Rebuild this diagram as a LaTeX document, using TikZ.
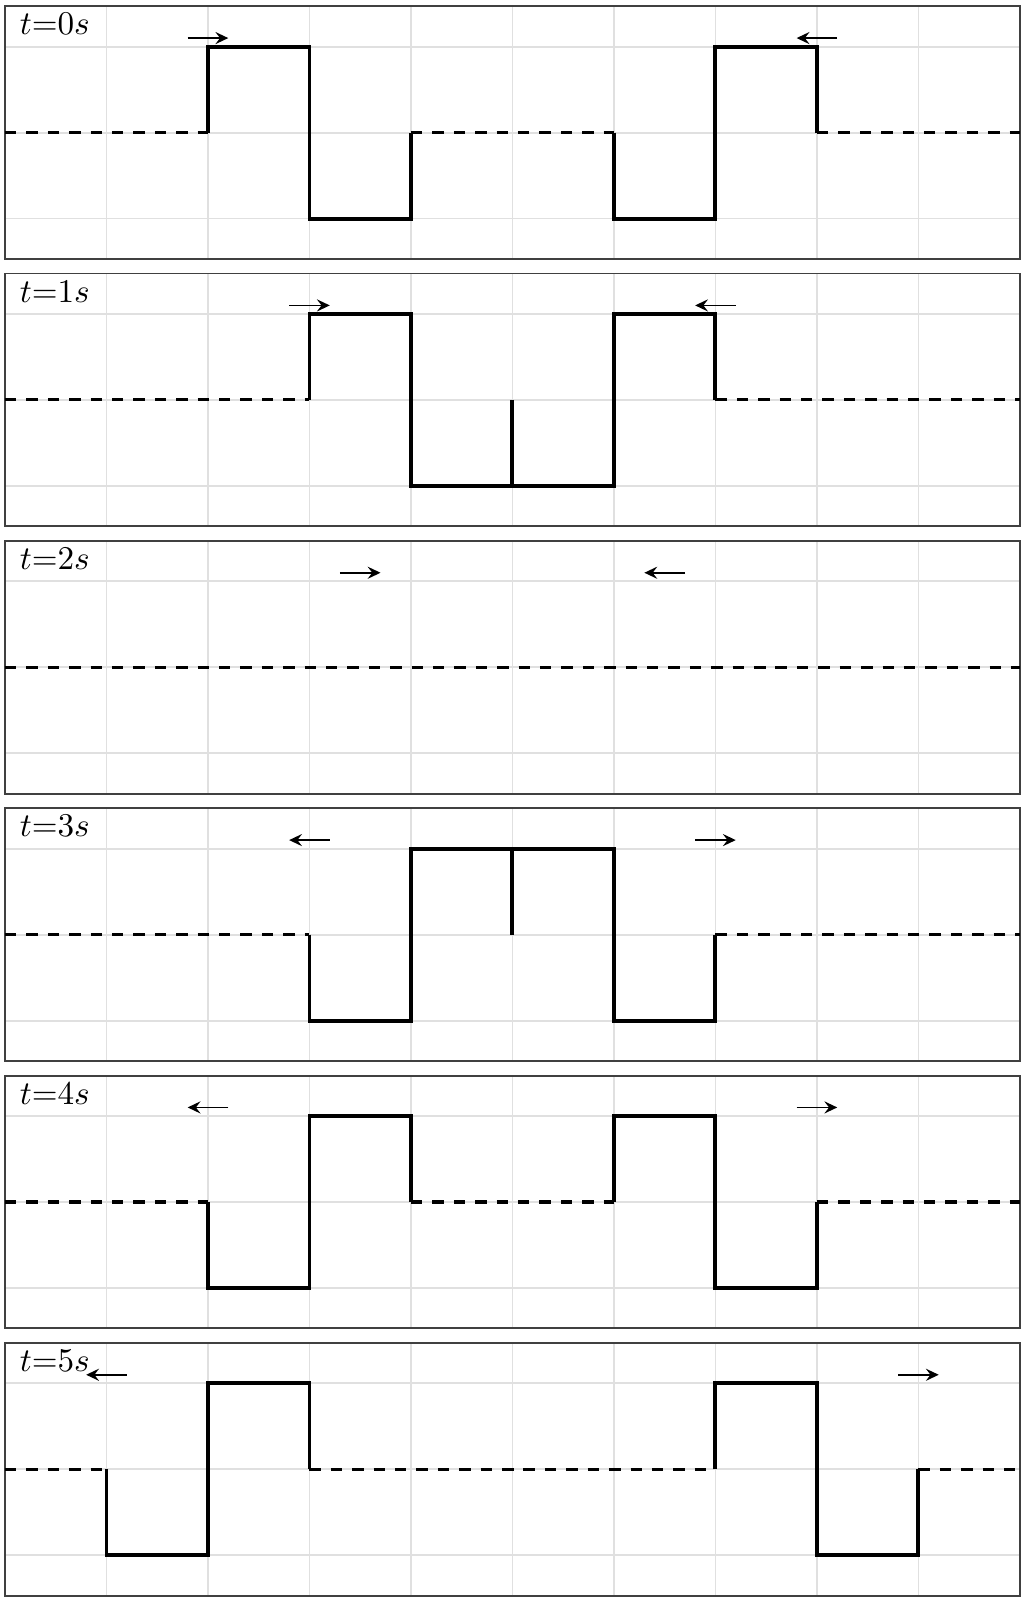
\documentclass[tikz,border=0pt]{standalone}
\usepackage{amssymb}
\usepackage{pgf, tikz}
\usetikzlibrary{arrows.meta}
\pgfdeclarelayer{gridlayer}
\pgfsetlayers{gridlayer,main}
\tikzstyle{none}=[inner sep=0pt]
\tikzstyle{timelabel}=[inner sep=0pt, anchor=base west, scale=0.93]
\tikzstyle{gridline}=[draw=black!12, line width=0.5pt]
\tikzstyle{frame}=[draw=black!75, line width=0.5pt]
\tikzstyle{wave}=[draw=black, line width=1.1pt]
\tikzstyle{rest}=[draw=black, line width=0.85pt, dash pattern=on 3.2pt off 2.8pt]
\tikzstyle{motion}=[draw=black, line width=0.45pt, -{Stealth[length=3.6pt, width=3.4pt, inset=1.3pt]}]

\begin{document}
\begin{tikzpicture}[x=1cm, y=0.847cm]
			\useasboundingbox (-0.049,1.543) rectangle (10.030,-17.069);
			% frames, grids and time labels
			\foreach \k in {0,...,5} {
				\begin{scope}[yshift=-\k*2.634cm]
				\begin{pgfonlayer}{gridlayer}
				\foreach \x in {1,...,9} \draw [style=gridline] (\x,-1.47) -- (\x,1.47);
				\foreach \y in {-1,0,1} \draw [style=gridline] (0,\y) -- (10,\y);
				\end{pgfonlayer}
				\draw [style=frame] (0,-1.47) rectangle (10,1.47);
				\node [style=timelabel] (t\k) at (0.14,1.139) {$t{=}\k s$};
				\end{scope}
			}
			% t = 0
			\begin{scope}
			\coordinate (a0) at (1.8,1.1);
			\coordinate (b0) at (2.2,1.1);
			\coordinate (c0) at (8.2,1.1);
			\coordinate (d0) at (7.8,1.1);
			\draw [style=rest] (0,0) -- (2,0);
			\draw [style=wave] (2,0) -- (2,1) -- (3,1) -- (3,-1) -- (4,-1) -- (4,0);
			\draw [style=rest] (4,0) -- (6,0);
			\draw [style=wave] (6,0) -- (6,-1) -- (7,-1) -- (7,1) -- (8,1) -- (8,0);
			\draw [style=rest] (8,0) -- (10,0);
			\draw [style=motion] (a0) to (b0);
			\draw [style=motion] (c0) to (d0);
			\end{scope}
			% t = 1
			\begin{scope}[yshift=-2.634cm]
			\coordinate (a1) at (2.8,1.1);
			\coordinate (b1) at (3.2,1.1);
			\coordinate (c1) at (7.2,1.1);
			\coordinate (d1) at (6.8,1.1);
			\draw [style=rest] (0,0) -- (3,0);
			\draw [style=wave] (3,0) -- (3,1) -- (4,1) -- (4,-1) -- (6,-1) -- (6,1) -- (7,1) -- (7,0);
			\draw [style=wave] (5,-1) -- (5,0);
			\draw [style=rest] (7,0) -- (10,0);
			\draw [style=motion] (a1) to (b1);
			\draw [style=motion] (c1) to (d1);
			\end{scope}
			% t = 2
			\begin{scope}[yshift=-5.268cm]
			\coordinate (a2) at (3.3,1.1);
			\coordinate (b2) at (3.7,1.1);
			\coordinate (c2) at (6.7,1.1);
			\coordinate (d2) at (6.3,1.1);
			\draw [style=rest] (0,0) -- (10,0);
			\draw [style=motion] (a2) to (b2);
			\draw [style=motion] (c2) to (d2);
			\end{scope}
			% t = 3
			\begin{scope}[yshift=-7.902cm]
			\coordinate (a3) at (3.2,1.1);
			\coordinate (b3) at (2.8,1.1);
			\coordinate (c3) at (6.8,1.1);
			\coordinate (d3) at (7.2,1.1);
			\draw [style=rest] (0,0) -- (3,0);
			\draw [style=wave] (3,0) -- (3,-1) -- (4,-1) -- (4,1) -- (6,1) -- (6,-1) -- (7,-1) -- (7,0);
			\draw [style=wave] (5,1) -- (5,0);
			\draw [style=rest] (7,0) -- (10,0);
			\draw [style=motion] (a3) to (b3);
			\draw [style=motion] (c3) to (d3);
			\end{scope}
			% t = 4
			\begin{scope}[yshift=-10.536cm]
			\coordinate (a4) at (2.2,1.1);
			\coordinate (b4) at (1.8,1.1);
			\coordinate (c4) at (7.8,1.1);
			\coordinate (d4) at (8.2,1.1);
			\draw [style=rest] (0,0) -- (2,0);
			\draw [style=wave] (2,0) -- (2,-1) -- (3,-1) -- (3,1) -- (4,1) -- (4,0);
			\draw [style=rest] (4,0) -- (6,0);
			\draw [style=wave] (6,0) -- (6,1) -- (7,1) -- (7,-1) -- (8,-1) -- (8,0);
			\draw [style=rest] (8,0) -- (10,0);
			\draw [style=motion] (a4) to (b4);
			\draw [style=motion] (c4) to (d4);
			\end{scope}
			% t = 5
			\begin{scope}[yshift=-13.170cm]
			\coordinate (a5) at (1.2,1.1);
			\coordinate (b5) at (0.8,1.1);
			\coordinate (c5) at (8.8,1.1);
			\coordinate (d5) at (9.2,1.1);
			\draw [style=rest] (0,0) -- (1,0);
			\draw [style=wave] (1,0) -- (1,-1) -- (2,-1) -- (2,1) -- (3,1) -- (3,0);
			\draw [style=rest] (3,0) -- (7,0);
			\draw [style=wave] (7,0) -- (7,1) -- (8,1) -- (8,-1) -- (9,-1) -- (9,0);
			\draw [style=rest] (9,0) -- (10,0);
			\draw [style=motion] (a5) to (b5);
			\draw [style=motion] (c5) to (d5);
			\end{scope}
\end{tikzpicture}
\end{document}
